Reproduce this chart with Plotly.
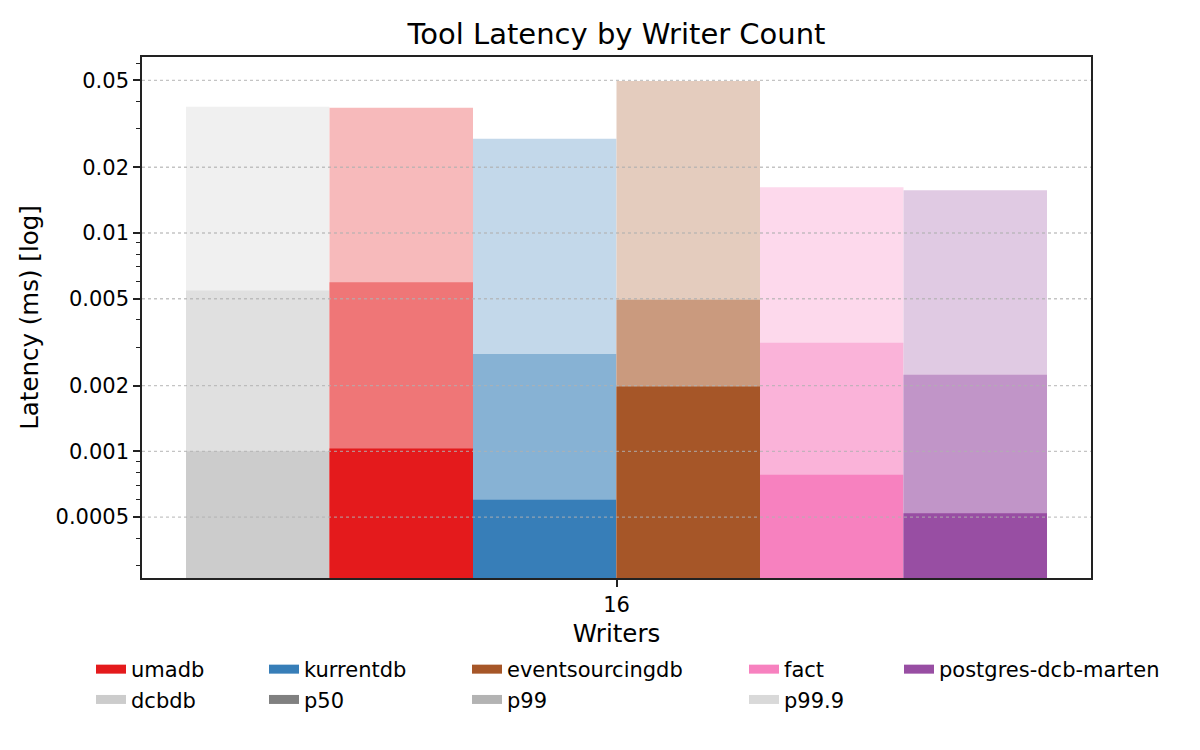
import plotly.graph_objects as go

# ---- data ----
writers = ["16"]
databases = ["dcbdb", "umadb", "kurrentdb", "eventsourcingdb", "fact", "postgres-dcb-marten"]
p50 = [0.00100, 0.00103, 0.000601, 0.00198, 0.000781, 0.000520]
p99 = [0.00546, 0.00595, 0.00279, 0.00494, 0.00314, 0.00224]
p999 = [0.0379, 0.0375, 0.0270, 0.0497, 0.0162, 0.0157]
percentiles = ["p50", "p99", "p99.9"]
y_ticks = [0.0005, 0.001, 0.002, 0.005, 0.01, 0.02, 0.05]
y_tick_labels = ["0.0005", "0.001", "0.002", "0.005", "0.01", "0.02", "0.05"]

# ---- styles ----
base_colors = {
    "dcbdb": "#cccccc",
    "umadb": "#e41a1c",
    "kurrentdb": "#377eb8",
    "eventsourcingdb": "#a65628",
    "fact": "#f781bf",
    "postgres-dcb-marten": "#984ea3",
}
alphas = {"p50": 1.0, "p99": 0.6, "p99.9": 0.3}


def blend(hex_color, a):
    h = hex_color.lstrip("#")
    r, g, b = (int(h[i:i + 2], 16) for i in (0, 2, 4))
    mix = lambda c: round(255 - a * (255 - c))
    return "rgb({},{},{})".format(mix(r), mix(g), mix(b))


FONT = "DejaVu Sans"
fig = go.Figure()

series = {"p50": p50, "p99": p99, "p99.9": p999}
for i, db in enumerate(databases):
    for pct in ["p99.9", "p99", "p50"]:
        fig.add_trace(go.Bar(
            x=writers, y=[series[pct][i]], name=f"{db} {pct}",
            offsetgroup=db, marker=dict(color=blend(base_colors[db], alphas[pct]), line=dict(width=0)),
            showlegend=False, hoverinfo="skip",
        ))

# legend proxies (columns like matplotlib ncol=5)
legend_items = [
    ("umadb", base_colors["umadb"], "legend", 1),
    ("dcbdb", base_colors["dcbdb"], "legend", 2),
    ("kurrentdb", base_colors["kurrentdb"], "legend2", 1),
    ("p50", blend("#808080", alphas["p50"]), "legend2", 2),
    ("eventsourcingdb", base_colors["eventsourcingdb"], "legend3", 1),
    ("p99", blend("#808080", alphas["p99"]), "legend3", 2),
    ("fact", base_colors["fact"], "legend4", 1),
    ("p99.9", blend("#808080", alphas["p99.9"]), "legend4", 2),
    ("postgres-dcb-marten", base_colors["postgres-dcb-marten"], "legend5", 1),
]
for name, col, leg, rank in legend_items:
    fig.add_trace(go.Scatter(
        x=[None], y=[None], mode="lines", name=name,
        line=dict(color=col, width=9), legend=leg, legendrank=rank,
    ))

# page offset of 8px (browser body margin) compensated in margins
OFF = 8
L, T = 142 - OFF, 57 - OFF
W, H = 1200, 750
pw, ph = 949, 521
R = W - L - pw
B = H - T - ph


def px_x(px):
    return (px - OFF - L) / pw


leg_common = dict(
    orientation="v", yanchor="top", y=-(649 - 578) / ph, xanchor="left",
    font=dict(family=FONT, size=21, color="black"), bgcolor="rgba(0,0,0,0)",
    tracegroupgap=0,
)
text_starts = [132, 305, 508, 785, 940]
legs = {}
for k, ts in enumerate(text_starts):
    key = "legend" if k == 0 else f"legend{k + 1}"
    legs[key] = dict(leg_common, x=px_x(ts - 41))

grid_shapes = [
    dict(type="line", xref="paper", x0=0, x1=1, yref="y", y0=v, y1=v, layer="above",
         line=dict(color="rgba(176,176,176,0.75)", width=1.3, dash="dot"))
    for v in y_ticks
]

fig.update_layout(
    width=W, height=H,
    margin=dict(l=L, r=R, t=T, b=B, autoexpand=False),
    paper_bgcolor="white", plot_bgcolor="white",
    barmode="group", bargap=0.0927, bargroupgap=0,
    font=dict(family=FONT, size=21, color="black"),
    title=dict(text="Tool Latency by Writer Count", x=0.5, xref="paper", xanchor="center",
               y=1 - (34 - OFF) / H, yref="container", yanchor="middle",
               font=dict(family=FONT, size=29, color="black")),
    xaxis=dict(
        type="category", range=[-0.5, 0.5],
        title=dict(text="Writers", font=dict(family=FONT, size=24.5), standoff=9),
        showline=True, mirror=True, linecolor="#222222", linewidth=1.6,
        ticks="outside", ticklen=7, tickwidth=1.6, tickcolor="#222222",
        tickfont=dict(family=FONT, size=21), showgrid=False, zeroline=False,
    ),
    yaxis=dict(
        type="log", range=[-3.58, -1.194],
        tickvals=y_ticks, ticktext=y_tick_labels,
        title=dict(text="Latency (ms) [log]", font=dict(family=FONT, size=24.5), standoff=10),
        showline=True, mirror=True, linecolor="#222222", linewidth=1.6,
        ticks="outside", ticklen=7, tickwidth=1.6, tickcolor="#222222",
        tickfont=dict(family=FONT, size=21),
        showgrid=False,
        minor=dict(ticks="outside", ticklen=4, tickwidth=1.2, tickcolor="#222222",
                   dtick="D1", showgrid=False),
        zeroline=False,
    ),
    shapes=grid_shapes,
    **legs,
)

fig.write_html("out.html")
